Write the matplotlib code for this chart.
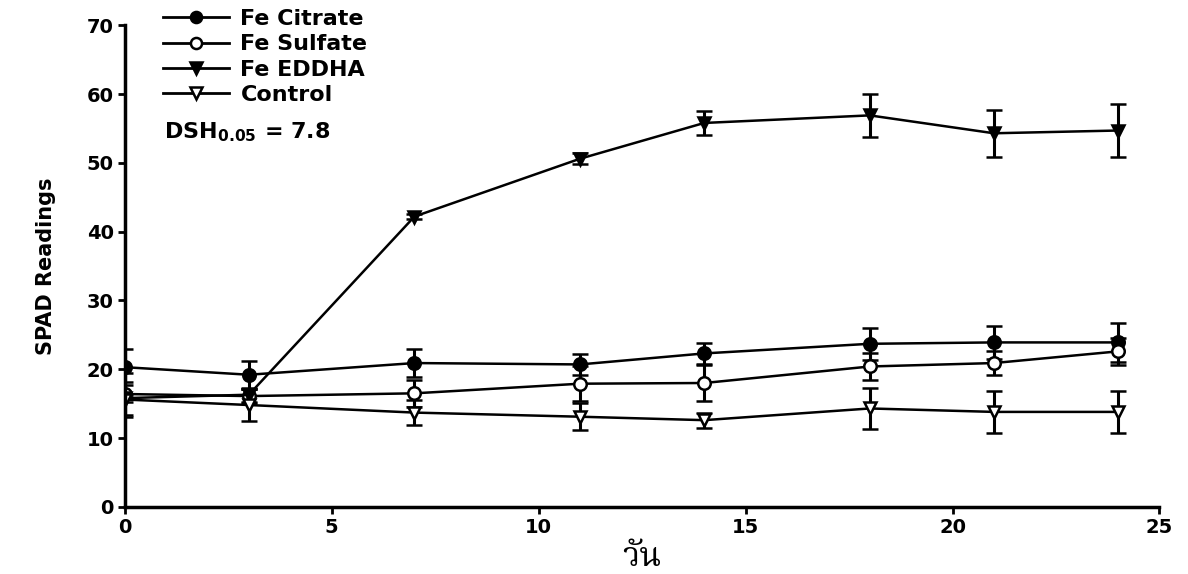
import matplotlib
matplotlib.use("Agg")
import matplotlib.pyplot as plt
from matplotlib.lines import Line2D

plt.rcParams['font.family'] = ['DejaVu Sans']
plt.rcParams['font.weight'] = 'bold'

days = [0, 3, 7, 11, 14, 18, 21, 24]

citrate = [20.3, 19.2, 20.9, 20.7, 22.3, 23.7, 23.9, 23.9]
citrate_err = [2.6, 2.0, 2.0, 1.5, 1.5, 2.3, 2.4, 2.8]

sulfate = [16.4, 16.1, 16.5, 17.9, 18.0, 20.4, 20.9, 22.6]
sulfate_err = [3.0, 1.0, 2.0, 2.5, 2.6, 2.0, 1.7, 2.0]

eddha = [15.8, 16.3, 42.2, 50.6, 55.8, 56.9, 54.3, 54.7]
eddha_err = [0.5, 1.0, 0.4, 0.8, 1.7, 3.1, 3.4, 3.8]

control = [15.6, 14.8, 13.7, 13.1, 12.6, 14.3, 13.8, 13.8]
control_err = [2.5, 2.3, 1.8, 2.0, 1.1, 3.0, 3.0, 3.0]

series = [
    ('Fe Citrate', citrate, citrate_err, 'o', 'black'),
    ('Fe Sulfate', sulfate, sulfate_err, 'o', 'white'),
    ('Fe EDDHA', eddha, eddha_err, 'v', 'black'),
    ('Control', control, control_err, 'v', 'white'),
]

fig = plt.figure(figsize=(11.88, 5.74), dpi=100)
ax = fig.add_axes([0.105, 0.117, 0.871, 0.839])

handles = []
for name, y, e, m, fc in series:
    ax.errorbar(days, y, yerr=e, color='black', marker=m, markersize=9,
                markerfacecolor=fc, markeredgecolor='black', markeredgewidth=1.8,
                linewidth=1.8, elinewidth=2.2, capsize=6, capthick=2.2)
    handles.append(Line2D([], [], color='black', marker=m, markersize=8,
                          markerfacecolor=fc, markeredgecolor='black',
                          markeredgewidth=1.8, linewidth=2, label=name))

ax.set_xlim(0, 25)
ax.set_ylim(0, 70)
ax.set_xticks([0, 5, 10, 15, 20, 25])
ax.set_yticks(range(0, 71, 10))
ax.spines['top'].set_visible(False)
ax.spines['right'].set_visible(False)
ax.spines['left'].set_linewidth(2.5)
ax.spines['bottom'].set_linewidth(2.5)
ax.tick_params(direction='out', width=2, length=5, labelsize=14, pad=3)

ax.set_ylabel('SPAD Readings', fontsize=15, fontweight='bold', labelpad=22)
ax.set_xlabel('วัน', fontsize=24, fontweight='bold',
              family=['Noto Serif Thai', 'Sarabun', 'Noto Sans Thai', 'Athiti', 'DejaVu Sans'])
ax.xaxis.set_label_coords(0.5, -0.07)

ax.legend(handles=handles, loc='upper left', bbox_to_anchor=(0.028, 1.052), frameon=False,
          fontsize=16, handlelength=3.0, handletextpad=0.5,
          labelspacing=0.24, borderaxespad=0)
ax.text(0.038, 0.765, r'DSH$_{\mathbf{0.05}}$ = 7.8', transform=ax.transAxes,
        fontsize=16, fontweight='bold')

fig.savefig('out.png', dpi=100)
